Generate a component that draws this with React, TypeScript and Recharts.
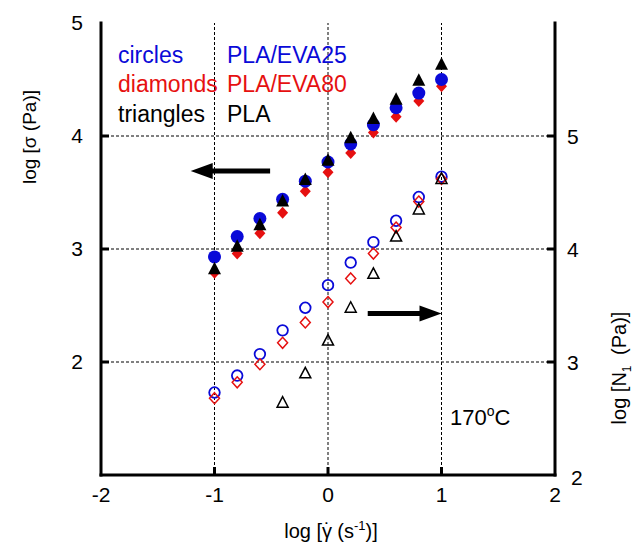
import React from "react";
import { ScatterChart, Scatter, XAxis, YAxis, ReferenceLine } from "recharts";

// log shear rate (s^-1)
const shearRate = [-1, -0.8, -0.6, -0.4, -0.2, 0, 0.2, 0.4, 0.6, 0.8, 1];

// log shear stress (left axis)
const sigmaEVA25 = [2.93, 3.11, 3.27, 3.44, 3.6, 3.77, 3.93, 4.1, 4.25, 4.38, 4.5];
const sigmaEVA80 = [2.79, 2.96, 3.14, 3.32, 3.51, 3.68, 3.85, 4.03, 4.17, 4.31, 4.44];
const sigmaPLA = [2.82, 3.02, 3.21, 3.42, 3.61, 3.78, 3.98, 4.15, 4.32, 4.49, 4.63];

// log first normal stress difference (right axis)
const n1EVA25 = [2.73, 2.88, 3.07, 3.28, 3.48, 3.68, 3.88, 4.06, 4.25, 4.46, 4.64];
const n1EVA80 = [2.68, 2.82, 2.98, 3.17, 3.35, 3.53, 3.74, 3.96, 4.19, 4.42, 4.62];
const n1PLA = [null, null, null, 2.64, 2.9, 3.19, 3.48, 3.78, 4.11, 4.35, 4.62];

const xTicks = [-2, -1, 0, 1, 2];
const sigmaTicks = [2, 3, 4, 5];
const n1Ticks = [2, 3, 4, 5];
const gridX = [-1, 0, 1];
const gridY = [2, 3, 4];

// arrows pointing to the axis each group belongs to
const sigmaArrow = [{ x: -0.51, y: 3.69 }, { x: -1.21, y: 3.69 }];
const n1Arrow = [{ x: 0.35, y: 3.43 }, { x: 1.0, y: 3.43 }];

const BLUE = "#0a0ad8";
const RED = "#e61010";
const FONT = "'Liberation Sans', Arial, sans-serif";

const toPoints = (ys: (number | null)[]) =>
  shearRate.map((x, i) => ({ x, y: ys[i] })).filter((p) => p.y !== null);

const FilledCircle = ({ cx, cy }: any) => <circle cx={cx} cy={cy} r={6.5} fill={BLUE} />;
const FilledDiamond = ({ cx, cy }: any) => (
  <polygon points={`${cx},${cy - 6} ${cx + 5.5},${cy} ${cx},${cy + 6} ${cx - 5.5},${cy}`} fill={RED} />
);
const FilledTriangle = ({ cx, cy }: any) => (
  <polygon points={`${cx},${cy - 7.5} ${cx - 6.5},${cy + 5} ${cx + 6.5},${cy + 5}`} fill="#000" />
);
const OpenCircle = ({ cx, cy }: any) => (
  <circle cx={cx} cy={cy} r={5.3} fill="none" stroke={BLUE} strokeWidth={1.8} />
);
const OpenDiamond = ({ cx, cy }: any) => (
  <polygon
    points={`${cx},${cy - 5.5} ${cx + 5},${cy} ${cx},${cy + 5.5} ${cx - 5},${cy}`}
    fill="none"
    stroke={RED}
    strokeWidth={1.5}
  />
);
const OpenTriangle = ({ cx, cy }: any) => (
  <polygon
    points={`${cx},${cy - 6} ${cx - 5.5},${cy + 4.5} ${cx + 5.5},${cy + 4.5}`}
    fill="none"
    stroke="#000"
    strokeWidth={1.5}
  />
);

const Arrow = ({ x1, y1, x2, y2 }: any) => {
  const len = Math.hypot(x2 - x1, y2 - y1) || 1;
  const ux = (x2 - x1) / len;
  const uy = (y2 - y1) / len;
  const head = 22;
  const half = 8;
  const bx = x2 - ux * head;
  const by = y2 - uy * head;
  return (
    <g>
      <line x1={x1} y1={y1} x2={bx + ux} y2={by + uy} stroke="#000" strokeWidth={5} />
      <polygon
        points={`${x2},${y2} ${bx - uy * half},${by + ux * half} ${bx + uy * half},${by - ux * half}`}
        fill="#000"
      />
    </g>
  );
};

const BottomTick = ({ x, y, payload }: any) => (
  <g>
    {Math.abs(payload.value) < 2 && (
      <line x1={x} y1={y} x2={x} y2={y - 8} stroke="#000" strokeWidth={3} />
    )}
    <text x={x} y={y + 27} textAnchor="middle" fontSize={21} fontFamily={FONT} fill="#000">
      {String(payload.value)}
    </text>
  </g>
);

const TopTick = ({ x, y, payload }: any) =>
  Math.abs(payload.value) < 2 ? (
    <line x1={x} y1={y} x2={x} y2={y + 8} stroke="#000" strokeWidth={3} />
  ) : (
    <g />
  );

const LeftTick = ({ x, y, payload }: any) => (
  <g>
    {payload.value < 5 && <line x1={x} y1={y} x2={x + 8} y2={y} stroke="#000" strokeWidth={3} />}
    <text x={x - 18} y={y + 7} textAnchor="end" fontSize={21} fontFamily={FONT} fill="#000">
      {String(payload.value)}
    </text>
  </g>
);

const RightTick = ({ x, y, payload }: any) => (
  <g>
    {payload.value > 2 && <line x1={x} y1={y} x2={x - 8} y2={y} stroke="#000" strokeWidth={3} />}
    <text
      x={x + (payload.value === 2 ? 16 : 12)}
      y={y + (payload.value === 2 ? 10 : 8)}
      textAnchor="start"
      fontSize={21}
      fontFamily={FONT}
      fill="#000"
    >
      {String(payload.value)}
    </text>
  </g>
);

const frame = { stroke: "#000", strokeWidth: 3, strokeLinecap: "square" as const };

export default function App() {
  return (
    <div style={{ position: "absolute", left: 0, top: 0, width: 643, height: 546, background: "#fff" }}>
      <ScatterChart width={643} height={546} margin={{ top: 23, right: 28, bottom: 31, left: 41 }}>
        <XAxis
          xAxisId="b"
          type="number"
          dataKey="x"
          domain={[-2, 2]}
          ticks={xTicks}
          orientation="bottom"
          height={40}
          tickSize={0}
          tickMargin={0}
          axisLine={frame}
          tickLine={false}
          tick={<BottomTick />}
          allowDataOverflow
        />
        <XAxis
          xAxisId="t"
          type="number"
          dataKey="x"
          domain={[-2, 2]}
          ticks={xTicks}
          orientation="top"
          height={0}
          tickSize={0}
          tickMargin={0}
          axisLine={frame}
          tickLine={false}
          tick={<TopTick />}
          allowDataOverflow
        />
        <YAxis
          yAxisId="l"
          type="number"
          dataKey="y"
          domain={[1, 5]}
          ticks={sigmaTicks}
          orientation="left"
          width={60}
          tickSize={0}
          tickMargin={0}
          axisLine={frame}
          tickLine={false}
          tick={<LeftTick />}
          allowDataOverflow
        />
        <YAxis
          yAxisId="r"
          type="number"
          dataKey="y"
          domain={[2, 6]}
          ticks={n1Ticks}
          orientation="right"
          width={60}
          tickSize={0}
          tickMargin={0}
          axisLine={frame}
          tickLine={false}
          tick={<RightTick />}
          allowDataOverflow
        />

        {gridX.map((v) => (
          <ReferenceLine key={"gx" + v} x={v} xAxisId="b" yAxisId="l" stroke="#000" strokeWidth={1} strokeDasharray="3 2" />
        ))}
        {gridY.map((v) => (
          <ReferenceLine key={"gy" + v} y={v} xAxisId="b" yAxisId="l" stroke="#000" strokeWidth={1} strokeDasharray="3 2" />
        ))}

        <ReferenceLine xAxisId="b" yAxisId="l" segment={sigmaArrow} shape={(p: any) => <Arrow {...p} />} />
        <ReferenceLine xAxisId="b" yAxisId="r" segment={n1Arrow} shape={(p: any) => <Arrow {...p} />} />

        <Scatter xAxisId="b" yAxisId="l" data={toPoints(sigmaEVA80)} shape={(p: any) => <FilledDiamond {...p} />} isAnimationActive={false} />
        <Scatter xAxisId="b" yAxisId="l" data={toPoints(sigmaEVA25)} shape={(p: any) => <FilledCircle {...p} />} isAnimationActive={false} />
        <Scatter xAxisId="b" yAxisId="l" data={toPoints(sigmaPLA)} shape={(p: any) => <FilledTriangle {...p} />} isAnimationActive={false} />

        <Scatter xAxisId="b" yAxisId="r" data={toPoints(n1EVA25)} shape={(p: any) => <OpenCircle {...p} />} isAnimationActive={false} />
        <Scatter xAxisId="b" yAxisId="r" data={toPoints(n1EVA80)} shape={(p: any) => <OpenDiamond {...p} />} isAnimationActive={false} />
        <Scatter xAxisId="b" yAxisId="r" data={toPoints(n1PLA)} shape={(p: any) => <OpenTriangle {...p} />} isAnimationActive={false} />
      </ScatterChart>

      <svg
        width={643}
        height={546}
        style={{ position: "absolute", left: 0, top: 0, pointerEvents: "none" }}
        fontFamily={FONT}
      >
        <g fontSize={23}>
          <text x={118} y={63} fill={BLUE}>circles</text>
          <text x={227} y={63} fill={BLUE}>PLA/EVA25</text>
          <text x={118} y={92} fill={RED}>diamonds</text>
          <text x={227} y={92} fill={RED}>PLA/EVA80</text>
          <text x={118} y={122} fill="#000">triangles</text>
          <text x={227} y={122} fill="#000">PLA</text>
        </g>
        <text x={450} y={425} fontSize={22} fill="#000">
          170<tspan fontSize={14} dy={-9}>o</tspan>
          <tspan dy={9}>C</tspan>
        </text>
        <text x={36} y={137} fontSize={19} textAnchor="middle" transform="rotate(-90 36 137)" fill="#000">
          log [σ (Pa)]
        </text>
        <text x={626} y={368} fontSize={20} textAnchor="middle" transform="rotate(-90 626 368)" fill="#000">
          log [N<tspan fontSize={12} dy={5}>1</tspan>
          <tspan dy={-5} dx={5}> (Pa)]</tspan>
        </text>
        <text x={331} y={538} fontSize={20} textAnchor="middle" fill="#000">
          log [γ<tspan dx={-8} dy={-1}>{"\u02D9"}</tspan>
          <tspan dx={1} dy={1}> (s</tspan>
          <tspan fontSize={13} dy={-8}>-1</tspan>
          <tspan dy={8}>)]</tspan>
        </text>
      </svg>
    </div>
  );
}
